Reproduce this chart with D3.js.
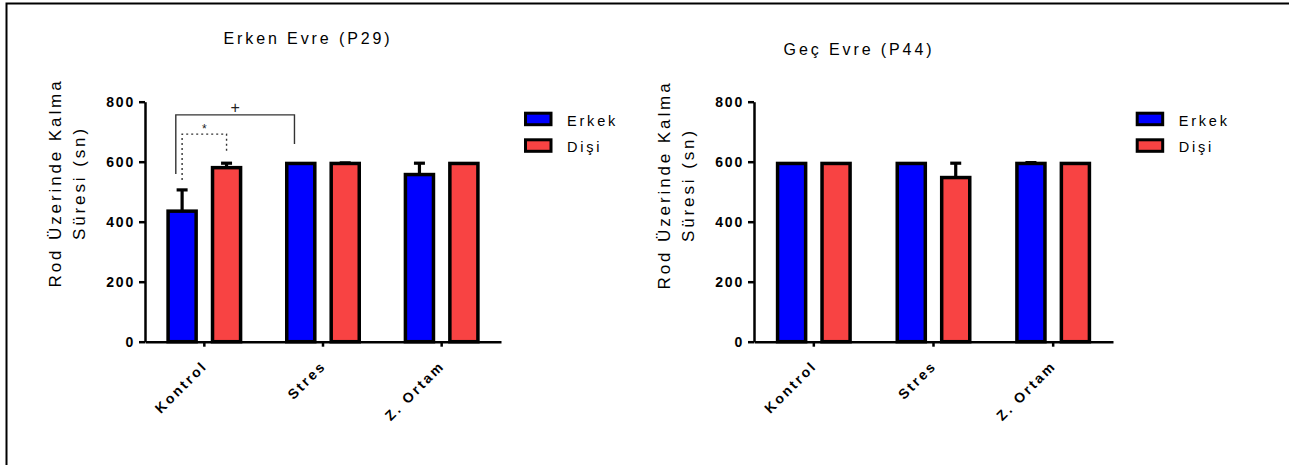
<!DOCTYPE html>
<html>
<head>
<meta charset="utf-8">
<script src="https://cdn.jsdelivr.net/npm/d3@7"></script>
<style>
  body { margin: 0; background: #fff; overflow: hidden; }
  svg { display: block; font-family: "Liberation Sans", Arial, sans-serif; }
</style>
</head>
<body>
<svg id="chart" width="1289" height="465"></svg>
<script>
// categories and series
const groups = ["Kontrol", "Stres", "Z. Ortam"];
const sexes = ["Erkek", "Dişi"];
const yTicks = [0, 200, 400, 600, 800];

// Erken Evre (P29)
const erkenErkek = [441, 600, 563];
const erkenErkekErr = [70, 0, 37];
const erkenDisi = [586, 600, 600];
const erkenDisiErr = [14, 1, 0];

// Geç Evre (P44)
const gecErkek = [600, 600, 600];
const gecErkekErr = [0, 0, 2];
const gecDisi = [600, 553, 600];
const gecDisiErr = [0, 47, 0];

// significance brackets (P29 only)
const erkenBrackets = [
  { a: ["Kontrol", "Erkek", 0.3], b: ["Stres", "Erkek", 0.3], top: 756, legA: 559, legB: 659, label: "+", dotted: false },
  { a: ["Kontrol", "Erkek", 0.5], b: ["Kontrol", "Dişi", 0.5], top: 692, legA: 539, legB: 630, label: "*", dotted: true }
];

const colors = { "Erkek": "#0000ff", "Dişi": "#f84343" };

const svg = d3.select("#chart");

// outer frame
svg.append("rect")
  .attr("x", 6.5).attr("y", 3.5)
  .attr("width", 1400).attr("height", 1000)
  .attr("fill", "none").attr("stroke", "#000").attr("stroke-width", 2);

function toRows(erkek, erkekErr, disi, disiErr) {
  const rows = [];
  groups.forEach((g, i) => {
    rows.push({ group: g, sex: "Erkek", value: erkek[i], err: erkekErr[i] });
    rows.push({ group: g, sex: "Dişi", value: disi[i], err: disiErr[i] });
  });
  return rows;
}

function drawPanel(opt) {
  const g = svg.append("g").attr("transform", `translate(${opt.left},0)`);
  const top = 101.7, bottom = 341.7;

  const x0 = d3.scaleBand().domain(groups).range([0, opt.width]).padding(0);
  const x1 = d3.scaleBand().domain(sexes).range([-38, 38]).paddingInner(0.29);
  const y = d3.scaleLinear().domain([0, 800]).range([bottom, top]);

  const rows = toRows(...opt.series);

  // bars (stroke drawn inside the bar outline)
  const sw = 3.5;
  g.selectAll("rect.bar").data(rows).enter().append("rect")
    .attr("class", "bar")
    .attr("x", d => x0(d.group) + x0.bandwidth() / 2 + x1(d.sex) + sw / 2)
    .attr("y", d => y(d.value) + sw / 2)
    .attr("width", x1.bandwidth() - sw)
    .attr("height", d => y(0) - y(d.value) - sw / 2)
    .attr("fill", d => colors[d.sex])
    .attr("stroke", "#000")
    .attr("stroke-width", sw);

  // error bars (upper only)
  const eb = g.selectAll("g.err").data(rows.filter(d => d.err > 0)).enter().append("g")
    .attr("class", "err")
    .attr("transform", d => `translate(${x0(d.group) + x0.bandwidth() / 2 + x1(d.sex) + x1.bandwidth() / 2},0)`);
  eb.append("line")
    .attr("x1", 0).attr("x2", 0)
    .attr("y1", d => y(d.value) + 2)
    .attr("y2", d => y(d.value + d.err) + 1.5)
    .attr("stroke", "#000").attr("stroke-width", 3.2);
  eb.append("line")
    .attr("x1", -5.5).attr("x2", 5.5)
    .attr("y1", d => y(d.value + d.err) + 1.5)
    .attr("y2", d => y(d.value + d.err) + 1.5)
    .attr("stroke", "#000").attr("stroke-width", 3.2);

  // axes
  const yAxis = g.append("g")
    .call(d3.axisLeft(y).tickValues(yTicks).tickSize(6).tickSizeOuter(0).tickPadding(4));
  yAxis.select(".domain").attr("stroke-width", 2.5);
  yAxis.selectAll(".tick line").attr("stroke-width", 2.5);
  yAxis.selectAll("text")
    .style("font-size", "14px").style("font-weight", "bold")
    .style("letter-spacing", "1.8px").attr("fill", "#000");

  const xAxis = g.append("g")
    .attr("transform", `translate(0,${bottom})`)
    .call(d3.axisBottom(x0).tickSize(5).tickSizeOuter(0).tickPadding(0));
  xAxis.select(".domain").attr("stroke-width", 2.5);
  xAxis.selectAll(".tick line").attr("stroke-width", 2.5);
  xAxis.selectAll("text")
    .attr("x", 0).attr("y", 0).attr("dy", 0)
    .attr("text-anchor", "end")
    .attr("transform", "translate(4,25) rotate(-45)")
    .style("font-size", "14px").style("font-weight", "bold")
    .style("letter-spacing", "2.5px").attr("fill", "#000");

  // y label (two lines)
  const yl = g.append("text")
    .attr("transform", `translate(-84,${opt.labelY}) rotate(-90)`)
    .attr("text-anchor", "middle")
    .style("font-size", "17px").style("letter-spacing", "2.9px");
  yl.append("tspan").attr("x", 0).attr("y", 0).text("Rod Üzerinde Kalma");
  yl.append("tspan").attr("x", 0).attr("y", 23.5).text("Süresi (sn)");

  // title
  g.append("text")
    .attr("x", opt.titleX).attr("y", opt.titleY)
    .attr("text-anchor", "middle")
    .style("font-size", "16px").style("letter-spacing", "2.9px")
    .text(opt.title);

  // legend
  const lg = g.selectAll("g.legend").data(sexes).enter().append("g")
    .attr("class", "legend")
    .attr("transform", (d, i) => `translate(${opt.legendX},${113.2 + i * 26.6})`);
  lg.append("rect")
    .attr("width", 25.5).attr("height", 11.5)
    .attr("fill", d => colors[d]).attr("stroke", "#000").attr("stroke-width", 3);
  lg.append("text")
    .attr("x", 41.5).attr("y", 12.3)
    .style("font-size", "14.5px").style("letter-spacing", "2.8px")
    .text(d => d);

  // brackets
  const bx = p => x0(p[0]) + x0.bandwidth() / 2 + x1(p[1]) + x1.bandwidth() * p[2];
  (opt.brackets || []).forEach(b => {
    const xa = bx(b.a), xb = bx(b.b);
    g.append("path")
      .attr("d", `M${xa},${y(b.legA)}V${y(b.top)}H${xb}V${y(b.legB)}`)
      .attr("fill", "none").attr("stroke", "#333").attr("stroke-width", 1.4)
      .attr("stroke-dasharray", b.dotted ? "2,3" : null);
    g.append("text")
      .attr("x", (xa + xb) / 2).attr("y", y(b.top) - (b.dotted ? 1 : 2))
      .attr("text-anchor", "middle")
      .style("font-size", b.dotted ? "12px" : "16px")
      .attr("fill", "#222")
      .text(b.label);
  });
}

drawPanel({
  left: 145, width: 356,
  series: [erkenErkek, erkenErkekErr, erkenDisi, erkenDisiErr],
  title: "Erken Evre (P29)", titleX: 163, titleY: 44,
  labelY: 183, legendX: 380.5, brackets: erkenBrackets
});

drawPanel({
  left: 754, width: 359,
  series: [gecErkek, gecErkekErr, gecDisi, gecDisiErr],
  title: "Geç Evre (P44)", titleX: 105, titleY: 55,
  labelY: 185, legendX: 383.2
});
</script>
</body>
</html>
